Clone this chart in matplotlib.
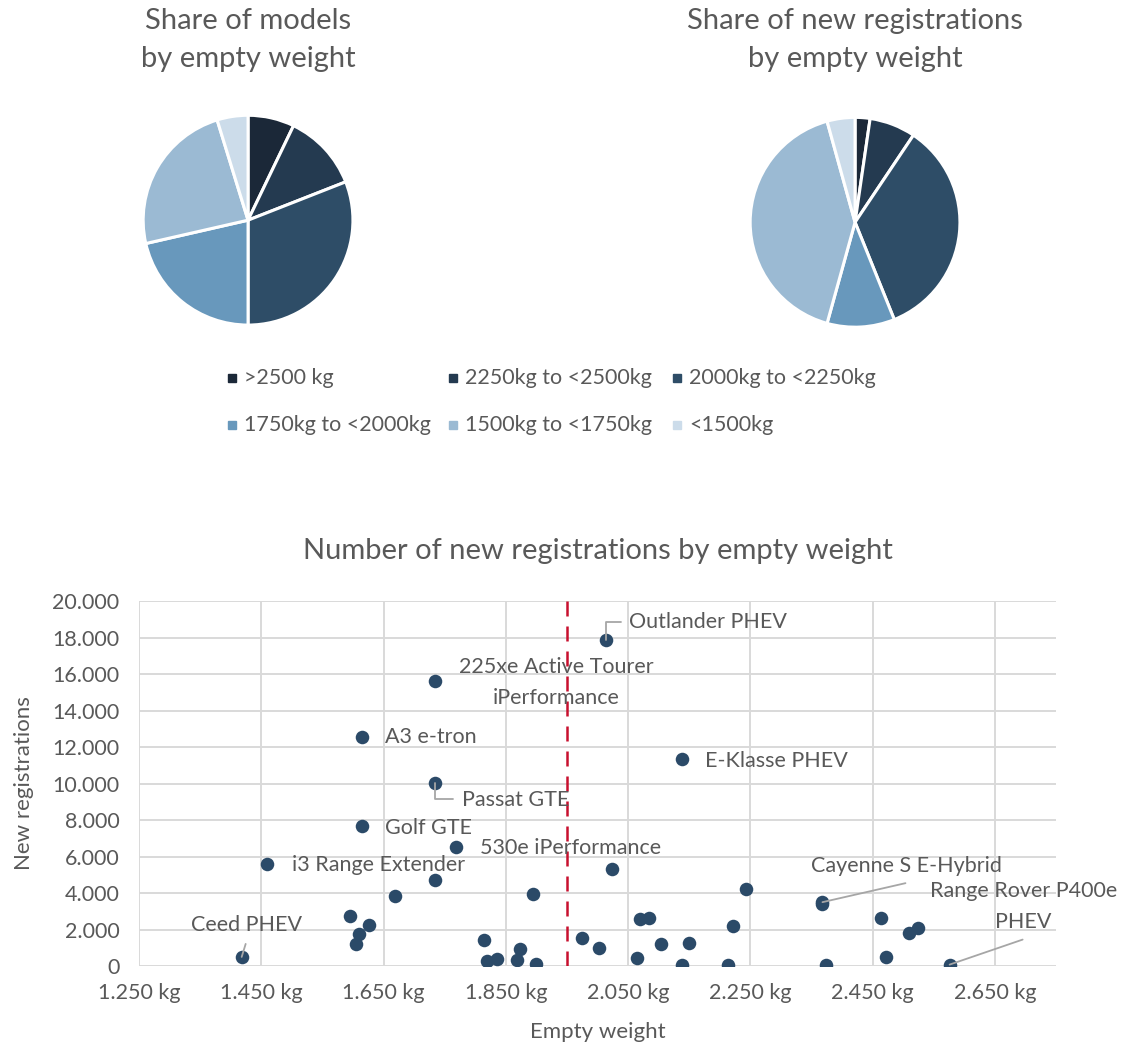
import matplotlib.pyplot as plt
from matplotlib.patches import Rectangle

plt.rcParams["font.family"] = ["Lato", "DejaVu Sans"]

# weight classes (heaviest first, as in the pies)
classes = [">2500 kg", "2250kg to <2500kg", "2000kg to <2250kg",
           "1750kg to <2000kg", "1500kg to <1750kg", "<1500kg"]
class_colors = ["#1b2838", "#243a50", "#2e4d67", "#6898bc", "#9bbad3", "#ccdcea"]

# number of models per class
models_share = [3, 5, 13, 9, 10, 2]
# share of new registrations per class (%)
regs_share = [2.3, 7.1, 34.5, 10.4, 41.4, 4.3]

# scatter: empty weight (kg) and new registrations per model
weights = [1418, 1460, 1615, 1615, 1734, 1734, 1769, 1734, 1669, 1595,
           1626, 1610, 1605, 1894, 1815, 1819, 1835, 1874, 1869, 1899,
           2014, 2138, 2024, 2243, 2368, 2368, 2464, 2510, 2524, 2472,
           2576, 2374, 2214, 2138, 2065, 2070, 2084, 2222, 1974, 2002,
           2104, 2149]
registrations = [500, 5600, 12550, 7700, 15600, 10050, 6520, 4700, 3820, 2760,
                 2270, 1770, 1190, 3960, 1410, 280, 400, 910, 350, 130,
                 17850, 11350, 5330, 4200, 3500, 3400, 2650, 1830, 2100, 490,
                 80, 70, 70, 70, 440, 2600, 2650, 2190, 1550, 990,
                 1190, 1260]
names = ["Ceed PHEV", "i3 Range Extender", "A3 e-tron", "Golf GTE",
         "225xe Active Tourer\niPerformance", "Passat GTE", "530e iPerformance"] + [""] * 13 + \
        ["Outlander PHEV", "E-Klasse PHEV", "", "", "Cayenne S E-Hybrid"] + [""] * 5 + \
        ["Range Rover P400e\nPHEV"] + [""] * 11
avg_weight = 1950

x_ticks = list(range(1250, 2751, 200))
y_ticks = list(range(0, 20001, 2000))

# label placement (pixel offsets from the point) and leader lines
label_pos = {
    "Ceed PHEV": (5, 32, "center"),
    "i3 Range Extender": (25, -1, "left"),
    "A3 e-tron": (23, 0, "left"),
    "Golf GTE": (23, -2, "left"),
    "225xe Active Tourer\niPerformance": (121, -1, "center"),
    "Passat GTE": (27, -17, "left"),
    "530e iPerformance": (24, -1, "left"),
    "Outlander PHEV": (23, 18, "left"),
    "E-Klasse PHEV": (23, -2, "left"),
    "Cayenne S E-Hybrid": (84, 36, "center"),
    "Range Rover P400e\nPHEV": (74, 58, "center"),
}
leaders = {
    "Ceed PHEV": ((4, 13), "arc3"),
    "Passat GTE": ((18, -16), "angle,angleA=0,angleB=90,rad=0"),
    "Outlander PHEV": ((15, 18), "angle,angleA=0,angleB=90,rad=0"),
    "Cayenne S E-Hybrid": ((83, 19), "arc3"),
    "Range Rover P400e\nPHEV": ((73, 25), "arc3"),
}

text_color = "#595959"
fs = 15.5
fig = plt.figure(figsize=(11.27, 10.52), dpi=100)

# pies
for left, bottom, vals, title in [(0.1251, 0.689, models_share, "Share of models\nby empty weight"),
                                  (0.6637, 0.687, regs_share, "Share of new registrations\nby empty weight")]:
    ax = fig.add_axes([left, bottom, 0.19, 0.2034])
    ax.pie(vals, colors=class_colors, startangle=90, counterclock=False,
           wedgeprops=dict(edgecolor="white", linewidth=2.2))
    ax.set_xlim(-1.02, 1.02)
    ax.set_ylim(-1.02, 1.02)
    fig.text(left + 0.095, 0.962, title, ha="center", va="center", fontsize=21,
             color=text_color, linespacing=1.6)

# legend, 3 per row
leg_cols = [232, 453, 677]
leg_rows = [378, 425]
for i, (lab, col) in enumerate(zip(classes, class_colors)):
    px = leg_cols[i % 3]
    py = leg_rows[i // 3]
    fig.add_artist(Rectangle(((px - 4) / 1127, 1 - (py + 4) / 1052), 8 / 1127, 8 / 1052,
                             transform=fig.transFigure, color=col))
    fig.text((px + 12) / 1127, 1 - py / 1052, lab, ha="left", va="center",
             fontsize=fs, color=text_color)

# scatter
ax = fig.add_axes([0.1233, 0.0817, 0.8137, 0.347])
ax.scatter(weights, registrations, s=95, color="#2b4a68", zorder=3, linewidths=0)
ax.axvline(avg_weight, color="#c8102e", linestyle=(0, (6, 4)), linewidth=1.8, zorder=2)
ax.set_xlim(1250, 2750)
ax.set_ylim(0, 20000)
ax.set_xticks(x_ticks)
ax.set_yticks(y_ticks)
ax.set_xticklabels([f"{v:,} kg".replace(",", ".") for v in x_ticks])
ax.set_yticklabels([f"{v:,}".replace(",", ".") for v in y_ticks])
ax.tick_params(length=0, labelsize=fs, labelcolor=text_color)
ax.tick_params(axis="x", pad=12)
ax.tick_params(axis="y", pad=14)
ax.grid(True, color="#d9d9d9", linewidth=1.4)
ax.set_axisbelow(True)
for sp in ax.spines.values():
    sp.set_visible(False)
ax.set_xlabel("Empty weight", fontsize=16, color=text_color, labelpad=14)
ax.set_ylabel("New registrations", fontsize=16, color=text_color, labelpad=13)
ax.set_title("Number of new registrations by empty weight", fontsize=21,
             color=text_color, pad=30)

for w, r, n in zip(weights, registrations, names):
    if not n:
        continue
    if n in leaders:
        (lx, ly), style = leaders[n]
        ax.annotate("", xy=(w, r), xytext=(lx, ly), textcoords="offset pixels",
                    arrowprops=dict(arrowstyle="-", color="#a6a6a6", lw=1.3,
                                    shrinkA=0, shrinkB=0, connectionstyle=style),
                    zorder=4)
    dx, dy, ha = label_pos[n]
    ax.annotate(n, xy=(w, r), xytext=(dx, dy), textcoords="offset pixels",
                ha=ha, va="center", fontsize=fs, color=text_color,
                linespacing=1.65, annotation_clip=False)

fig.savefig("out.png", dpi=100)
